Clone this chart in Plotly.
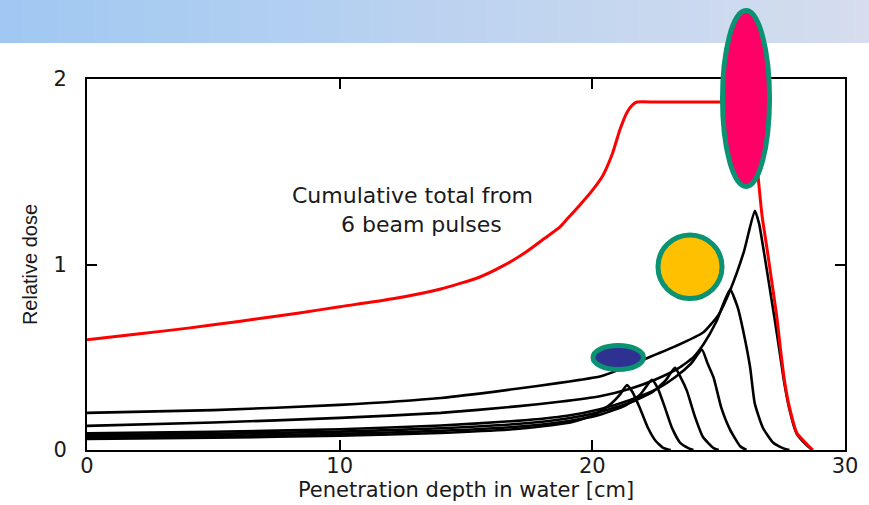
import plotly.graph_objects as go

# ---------------------------------------------------------------- data
# Cumulative dose from six beam pulses (spread-out Bragg peak)
total_depth = [0, 2, 4, 6, 8.4, 10, 12.1, 14, 15.5, 16.5, 17.3, 18.1, 18.7, 19.0,
               19.5, 20.0, 20.4, 20.8, 21.1, 21.37, 21.6, 21.77, 22.5, 24.0,
               25.5, 26.0, 26.25, 26.42, 26.56, 26.72, 26.92, 27.11, 27.3,
               27.45, 27.62, 27.82, 28.1, 28.5, 28.73]
total_dose = [0.594, 0.625, 0.657, 0.693, 0.739, 0.772, 0.815, 0.868, 0.93,
              0.995, 1.06, 1.14, 1.2, 1.245, 1.32, 1.40, 1.476, 1.60, 1.73,
              1.82, 1.862, 1.876, 1.876, 1.876, 1.876, 1.876, 1.85, 1.70,
              1.476, 1.26, 1.08, 0.90, 0.72, 0.54, 0.36, 0.22, 0.09, 0.03, 0.0]

# Individual pulses (Bragg curves), shallowest to deepest
pulse1_depth = [0, 5, 10, 14, 17, 19, 20, 20.7, 21.1, 21.37, 21.6, 21.9, 22.2,
                22.5, 22.8, 23.1]
pulse1_dose = [0.06, 0.066, 0.077, 0.092, 0.113, 0.145, 0.185, 0.245, 0.30,
               0.35, 0.31, 0.22, 0.12, 0.05, 0.012, 0.0]

pulse2_depth = [0, 5, 10, 14, 17, 19, 20.3, 21.3, 21.9, 22.36, 22.6, 22.87,
                23.15, 23.47, 23.8, 24.0]
pulse2_dose = [0.07, 0.076, 0.087, 0.103, 0.125, 0.155, 0.19, 0.24, 0.30,
               0.378, 0.33, 0.23, 0.12, 0.04, 0.01, 0.0]

pulse3_depth = [0, 5, 10, 14, 17, 19, 20.3, 21.5, 22.4, 22.9, 23.27, 23.5,
                23.74, 24.06, 24.38, 24.8, 25.0]
pulse3_dose = [0.08, 0.087, 0.099, 0.117, 0.14, 0.17, 0.205, 0.255, 0.315,
               0.375, 0.443, 0.39, 0.32, 0.18, 0.07, 0.01, 0.0]

pulse4_depth = [0, 5, 10, 14, 17, 19, 20.3, 21.5, 22.5, 23.3, 23.9, 24.34,
                24.55, 24.8, 25.1, 25.45, 25.85, 26.1]
pulse4_dose = [0.09, 0.098, 0.112, 0.132, 0.157, 0.185, 0.22, 0.27, 0.325,
               0.395, 0.465, 0.54, 0.47, 0.39, 0.23, 0.11, 0.02, 0.0]

pulse5_depth = [0, 5, 10, 14, 17, 18.7, 20.3, 21.5, 22.5, 23.4, 24.0, 24.4,
                24.9, 25.45, 25.75, 25.96, 26.24, 26.43, 26.75, 27.15, 27.54,
                27.8]
pulse5_dose = [0.13, 0.148, 0.173, 0.2, 0.235, 0.26, 0.29, 0.33, 0.38, 0.44,
               0.5, 0.57, 0.69, 0.865, 0.77, 0.65, 0.45, 0.25, 0.12, 0.04,
               0.01, 0.0]

pulse6_depth = [0, 5, 10, 14, 17, 18.7, 19.5, 20.3, 21.2, 22.0, 23.3, 24.4,
                25.0, 25.45, 26.0, 26.43, 26.6, 26.8, 27.0, 27.2, 27.4, 27.6,
                27.8, 28.08, 28.45, 28.7]
pulse6_dose = [0.20, 0.215, 0.243, 0.28, 0.33, 0.362, 0.378, 0.396, 0.44,
               0.486, 0.56, 0.635, 0.73, 0.86, 1.07, 1.29, 1.22, 1.06, 0.89,
               0.72, 0.54, 0.36, 0.22, 0.09, 0.03, 0.0]

x_ticks = [0, 10, 20, 30]
y_ticks = [0, 1, 2]

# ---------------------------------------------------------------- layout geometry
W, H = 869, 505
ML, MR, MT, MB = 87, 24, 79, 55
PW, PH = W - ML - MR, H - MT - MB


def px(x):
    return (x - ML) / PW


def py(y):
    return (H - MB - y) / PH


FONT = "DejaVu Sans, Arial, sans-serif"
TEAL = "#0a9272"
INK = "#1a1a1a"

fig = go.Figure()

pulses = [(pulse1_depth, pulse1_dose), (pulse2_depth, pulse2_dose),
          (pulse3_depth, pulse3_dose), (pulse4_depth, pulse4_dose),
          (pulse5_depth, pulse5_dose), (pulse6_depth, pulse6_dose)]
for d, v in pulses:
    fig.add_trace(go.Scatter(x=d, y=v, mode="lines",
                             line=dict(color="black", width=2.6,
                                       shape="spline", smoothing=0.5),
                             hoverinfo="skip", showlegend=False))

fig.add_trace(go.Scatter(x=total_depth, y=total_dose, mode="lines",
                         line=dict(color="#ff0000", width=3,
                                   shape="spline", smoothing=0.5),
                         hoverinfo="skip", showlegend=False))

shapes = []

# header band with a horizontal colour gradient
n_strips = 120
c0 = (160, 200, 242)
c1 = (213, 221, 238)
for i in range(n_strips):
    t = i / (n_strips - 1)
    col = tuple(round(a + (b - a) * t) for a, b in zip(c0, c1))
    x0 = W * i / n_strips
    x1 = W * (i + 1) / n_strips + 0.8
    shapes.append(dict(type="rect", xref="paper", yref="paper",
                       x0=px(x0), x1=px(x1), y0=py(43), y1=py(0),
                       fillcolor="rgb(%d,%d,%d)" % col, line=dict(width=0),
                       layer="below"))


def ellipse(x0, x1, y0, y1, fill, lw):
    return dict(type="circle", xref="paper", yref="paper",
                x0=px(x0 + lw / 2), x1=px(x1 - lw / 2),
                y0=py(y1 - lw / 2), y1=py(y0 + lw / 2),
                fillcolor=fill, line=dict(color=TEAL, width=lw),
                layer="above")


shapes.append(ellipse(720, 772, 8, 189, "#ff0066", 5))
shapes.append(ellipse(655.5, 724.5, 232.5, 301, "#ffc000", 5))
shapes.append(ellipse(590.5, 646, 343, 372, "#2e3192", 5))

# two-line label for the red curve, second line indented
indent = "\u00a0" * 7
annotations = [
    dict(x=8.03, y=1.292, xref="x", yref="y", xanchor="left", yanchor="middle",
         align="left", showarrow=False,
         text="Cumulative total from<br>" + indent + "6 beam pulses",
         font=dict(family=FONT, size=22, color=INK)),
]

axis_common = dict(showgrid=False, zeroline=False, showline=True,
                   linecolor="black", linewidth=2, mirror="ticks",
                   ticks="inside", ticklen=10, tickwidth=2, tickcolor="black",
                   tickfont=dict(family=FONT, size=21, color=INK))

fig.update_layout(
    width=W, height=H,
    margin=dict(l=ML, r=MR, t=MT, b=MB, autoexpand=False),
    paper_bgcolor="white", plot_bgcolor="white",
    showlegend=False,
    shapes=shapes,
    annotations=annotations,
    xaxis=dict(range=[0, 30], tickvals=x_ticks, ticktext=[str(v) for v in x_ticks],
               title=dict(text="Penetration depth in water [cm]", standoff=5,
                          font=dict(family=FONT, size=21, color=INK)),
               ticklabelstandoff=-4, automargin=False, **axis_common),
    yaxis=dict(range=[0, 2], tickvals=y_ticks, ticktext=[str(v) for v in y_ticks],
               title=dict(text="Relative dose", standoff=10,
                          font=dict(family="Liberation Sans, Arial, sans-serif",
                                    size=20, color=INK)),
               ticklabelstandoff=14, automargin=False, **axis_common),
)

fig.write_html("out.html")
